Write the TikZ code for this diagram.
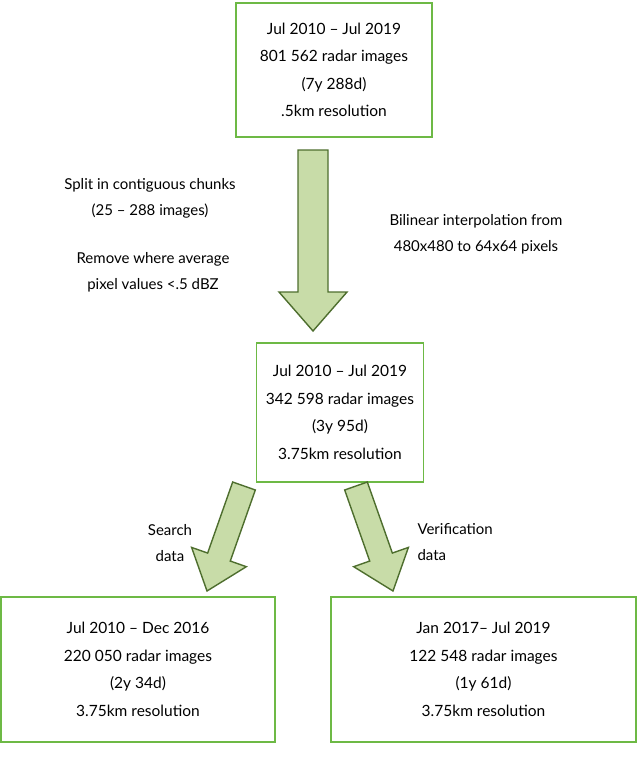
\documentclass[tikz,border=0pt]{standalone}
\usepackage{fontspec}
\setmainfont{Lato}
\usetikzlibrary{calc}
\definecolor{boxg}{HTML}{6DB945}
\definecolor{arrf}{HTML}{C8DCA8}
\definecolor{arrd}{HTML}{4E6E2E}
\tikzset{
  box/.style={draw=boxg,line width=1.6pt,fill=white,align=center,minimum height=#1},
  lbl/.style={align=center,font=\fontsize{15}{26}\selectfont},
  fat/.style={fill=arrf,draw=arrd,line width=1.4pt,line join=miter}
}
\newcommand{\fatarrow}[5]{%
  \coordinate (h) at ($(#2)!#5pt!(#1)$);
  \draw[fat] ($(#1)!#3pt!90:(#2)$) -- ($(h)!#3pt!-90:(#1)$) -- ($(h)!#4pt!-90:(#1)$) -- (#2)
     -- ($(h)!#4pt!90:(#1)$) -- ($(h)!#3pt!90:(#1)$) -- ($(#1)!#3pt!-90:(#2)$) -- cycle;}
\begin{document}
\begin{tikzpicture}[x=1pt,y=-1pt,font=\fontsize{15.5}{27.5}\selectfont]
\useasboundingbox (0,0) rectangle (640,771);
\node[box=134,minimum width=196,align=center] (top) at (334,70) {Jul 2010 -- Jul 2019\\801 562 radar images\\(7y 288d)\\.5km resolution};
\node[box=139,minimum width=167] (mid) at (340,412.5) {Jul 2010 -- Jul 2019\\342 598 radar images\\(3y 95d)\\3.75km resolution};
\node[box=145,minimum width=274] (bl) at (138,669.5) {Jul 2010 -- Dec 2016\\220 050 radar images\\(2y 34d)\\3.75km resolution};
\node[box=145,minimum width=305] (br) at (483.5,669.5) {Jan 2017-- Jul 2019\\122 548 radar images\\(1y 61d)\\3.75km resolution};
\coordinate (a1) at (313,150); \coordinate (t1) at (313,331);
\fatarrow{a1}{t1}{15}{34}{39}
\coordinate (a2) at (244,486); \coordinate (t2) at (207,591);
\fatarrow{a2}{t2}{12}{29}{36}
\coordinate (a3) at (356,486); \coordinate (t3) at (393,591);
\fatarrow{a3}{t3}{12}{29}{36}
\node[lbl] (l1) at (150,198) {Split in contiguous chunks\\(25 -- 288 images)};
\node[lbl] (l2) at (153,272) {Remove where average\\pixel values <.5 dBZ};
\node[lbl] (l3) at (476,234) {Bilinear interpolation from\\480x480 to 64x64 pixels};
\node[lbl] (l4) at (170,543) {Search\\data};
\node[lbl,align=left,anchor=west] (l5) at (414,542) {Verification\\data};
\end{tikzpicture}
\end{document}
